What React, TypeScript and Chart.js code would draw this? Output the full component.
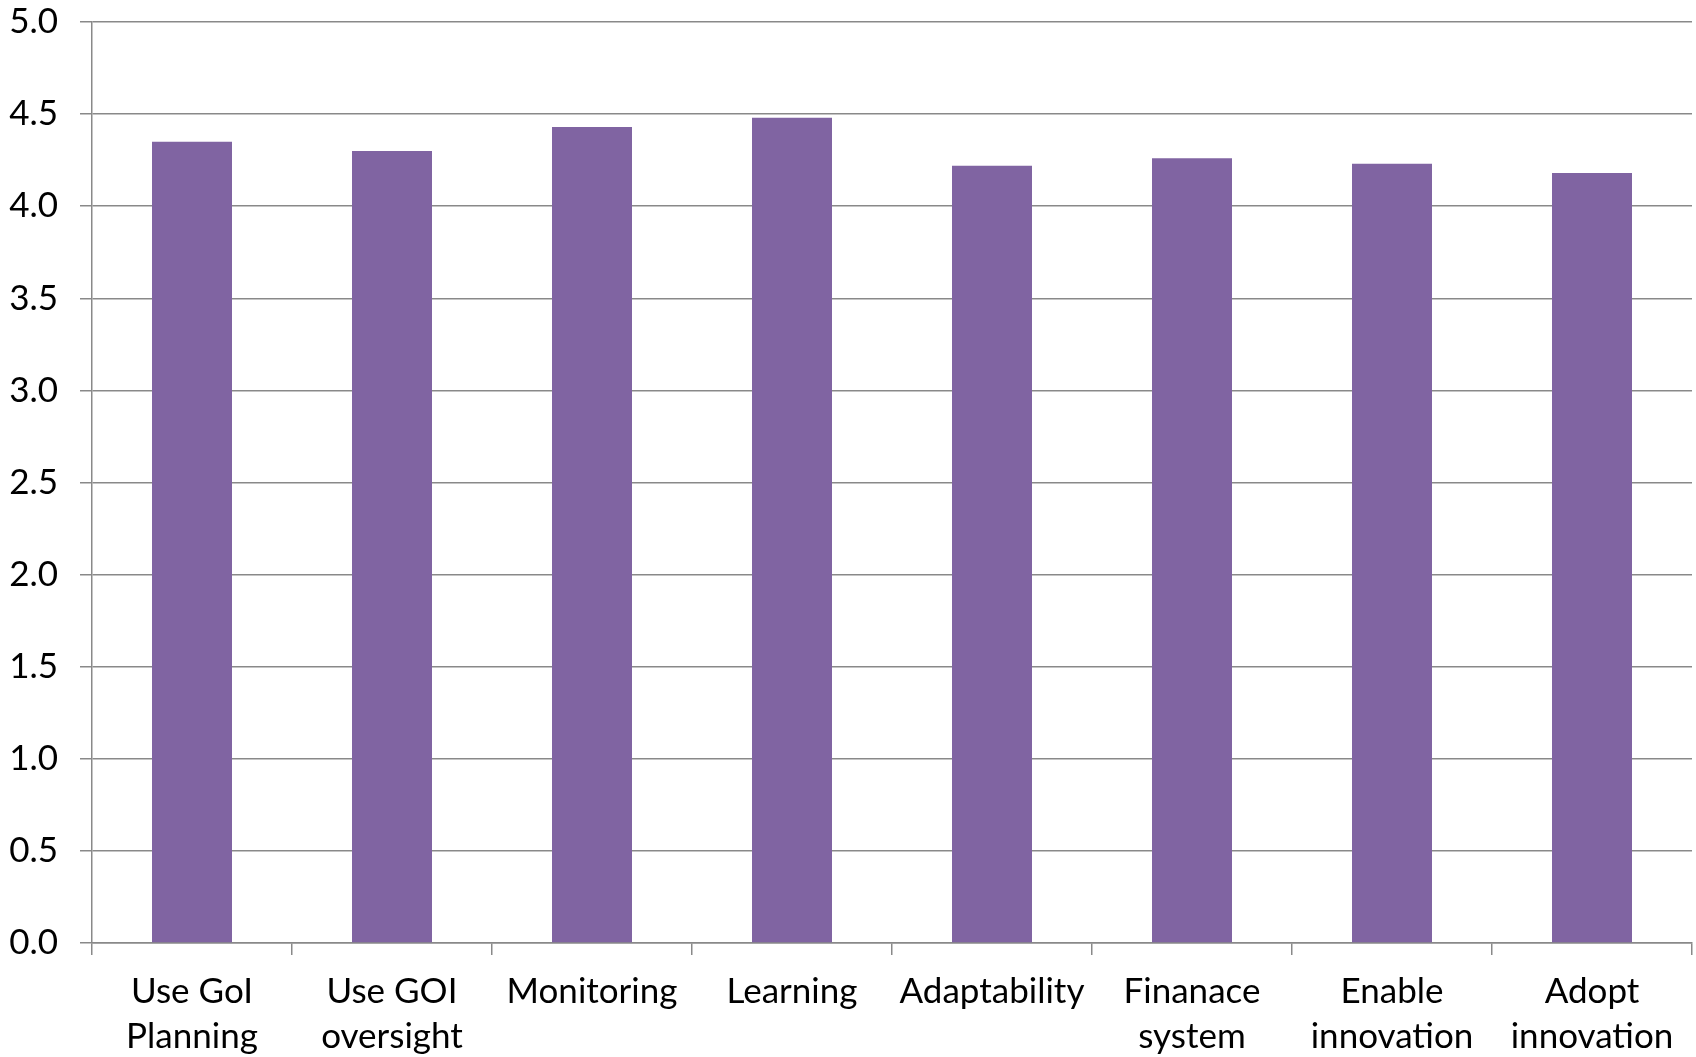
import React, { useEffect, useRef } from "react";
import { Chart, registerables } from "chart.js";

Chart.register(...registerables);

const categories: (string | string[])[] = [
  ["Use GoI", "Planning"],
  ["Use GOI", "oversight"],
  "Monitoring",
  "Learning",
  "Adaptability",
  ["Finanace", "system"],
  ["Enable", "innovation"],
  ["Adopt", "innovation"],
];
const scores = [4.35, 4.3, 4.43, 4.48, 4.22, 4.26, 4.23, 4.18];
const yMin = 0;
const yMax = 5;
const yStep = 0.5;

export default function App() {
  const ref = useRef<HTMLCanvasElement | null>(null);
  useEffect(() => {
    if (!ref.current) return;
    const grey = "#898989";
    const chart = new Chart(ref.current, {
      type: "bar",
      data: {
        labels: categories,
        datasets: [
          {
            data: scores,
            backgroundColor: "#8064A2",
            borderWidth: 0,
            barPercentage: 0.4,
            categoryPercentage: 1,
          },
        ],
      },
      options: {
        responsive: false,
        animation: false,
        devicePixelRatio: 1,
        layout: { padding: { top: 22, right: 4, left: 0, bottom: 0 } },
        plugins: { legend: { display: false }, tooltip: { enabled: false } },
        scales: {
          x: {
            grid: {
              display: true,
              drawOnChartArea: false,
              drawTicks: true,
              tickLength: 12,
              color: grey,
              lineWidth: 1.5,
              offset: true,
            },
            border: { display: true, color: grey, width: 1.5 },
            ticks: {
              color: "#000000",
              padding: 14,
              maxRotation: 0,
              autoSkip: false,
              font: { family: "Lato", size: 35, lineHeight: 1.286 },
            },
            afterFit: (s: any) => {
              s.height = 114;
              s.paddingLeft = 0;
              s.paddingRight = 0;
            },
          },
          y: {
            min: yMin,
            max: yMax,
            grid: {
              color: grey,
              lineWidth: 1.5,
              tickLength: 12,
              drawTicks: true,
            },
            border: { display: true, color: grey, width: 1.5 },
            ticks: {
              stepSize: yStep,
              color: "#000000",
              padding: 22,
              font: { family: "Lato", size: 35, lineHeight: 1.2 },
              callback: (v: any) => Number(v).toFixed(1),
            },
            afterFit: (s: any) => {
              s.width = 92;
              s.paddingTop = 0;
              s.paddingBottom = 0;
            },
          },
        },
      },
    });
    return () => chart.destroy();
  }, []);
  return (
    <div style={{ position: "fixed", left: 0, top: 0, width: 1696, height: 1057, background: "#fff" }}>
      <canvas ref={ref} width={1696} height={1057} style={{ width: 1696, height: 1057, display: "block" }} />
    </div>
  );
}
